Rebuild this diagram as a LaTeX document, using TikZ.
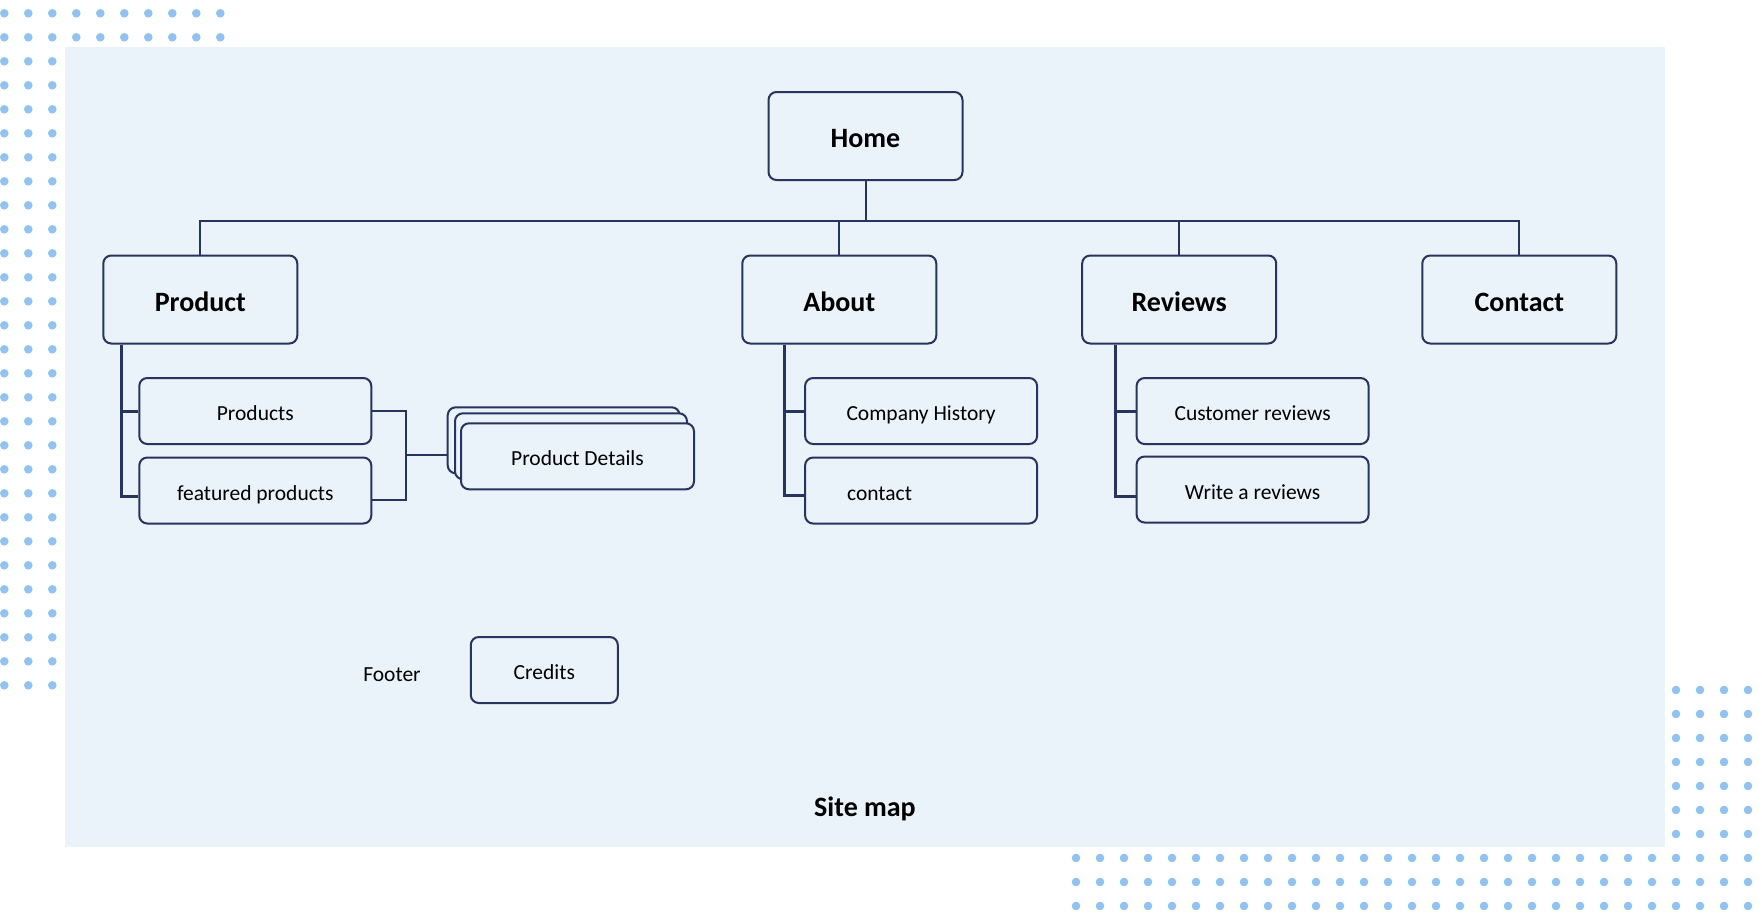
\documentclass[tikz,border=0pt]{standalone}
\usepackage{fontspec}
\setmainfont{Carlito}

\definecolor{navy}{RGB}{38,52,95}
\definecolor{paleblue}{RGB}{234,242,250}
\definecolor{dotblue}{RGB}{145,194,240}

\begin{document}
\begin{tikzpicture}[x=1pt,y=-1pt,
    box/.style={draw=navy,line width=2pt,rounded corners=8pt,fill=paleblue,text=black,text depth=0pt},
    bigtext/.style={font=\fontsize{28}{34}\selectfont\bfseries,text height=23.5pt,text depth=0pt},
    smalltext/.style={font=\fontsize{21.5}{26}\selectfont,text height=19pt,text depth=0pt},
    mainbox/.style={box,bigtext,minimum width=194pt,minimum height=88pt},
    subbox/.style={box,smalltext,minimum width=232pt,minimum height=66pt},
    link/.style={navy,line width=2pt},
    branchline/.style={navy,line width=3pt}]
\fill[white] (0,0) rectangle (1762,919);
\useasboundingbox (0,0) rectangle (1762,919);

% dotted corners
\foreach \i in {0,...,9}
  \foreach \j in {0,...,28}
    \fill[dotblue] (4.3+24*\i,13.3+24*\j) circle (4.3pt);
\foreach \i in {0,...,28}
  \foreach \j in {0,...,9}
    \fill[dotblue] (1076+24*\i,690+24*\j) circle (4.3pt);
\fill[paleblue] (65.3,47.3) rectangle (1665,847);

\draw
    (865.5,136)  node[mainbox]  (home) {Home}
    (200.3,299.5)  node[mainbox]  (prod) {Product}
    (839.3,299.5)  node[mainbox]  (about) {About}
    (1179.2,299.5)  node[mainbox]  (rev) {Reviews}
    (1519.3,299.5)  node[mainbox]  (cont) {Contact}
    (255.3,411)  node[subbox]  (products) {Products}
    (255.3,490.5)  node[subbox]  (feat) {featured products}
    (563.7,440.3)  node[subbox]  (pdback) {}
    (571,446.3)  node[subbox]  (pdmid) {}
    (577.5,456.3)  node[subbox,minimum width=233pt]  (pd) {Product Details}
    (921.1,411)  node[subbox]  (hist) {Company History}
    (921.1,490.5)  node[subbox,inner xsep=42pt,text width=148pt,align=left]  (contact) {contact}
    (1252.6,411)  node[subbox]  (cust) {Customer reviews}
    (1252.6,489.5)  node[subbox]  (write) {Write a reviews}
    (392,672.3)  node[smalltext]  (footer) {Footer}
    (544.3,670)  node[subbox,minimum width=147pt]  (cred) {Credits}
    (865,804.6)  node[bigtext]  (title) {Site map};

\coordinate (bus) at (0,221);
\coordinate (jn) at (406,455.3);
\draw[link] (home.south) -- (home.south |- bus);
\draw[link] (prod.north) |- (cont.north |- bus) -- (cont.north);
\draw[link] (about.north) -- (about.north |- bus);
\draw[link] (rev.north) -- (rev.north |- bus);
\draw[branchline] ([xshift=19.5pt]prod.south west) |- (products.west);
\draw[branchline] ([xshift=19.5pt]prod.south west) |- ([yshift=-5.5pt]feat.west);
\draw[branchline] ([xshift=43.5pt]about.south west) |- (hist.west);
\draw[branchline] ([xshift=43.5pt]about.south west) |- ([yshift=-4.8pt]contact.west);
\draw[branchline] ([xshift=34.5pt]rev.south west) |- (cust.west);
\draw[branchline] ([xshift=34.5pt]rev.south west) |- ([yshift=-6.5pt]write.west);
\draw[link] (products.east) -| (jn) |- ([yshift=-9.5pt]feat.east);
\draw[link] (jn) -- (jn -| pdback.west);
\end{tikzpicture}
\end{document}
